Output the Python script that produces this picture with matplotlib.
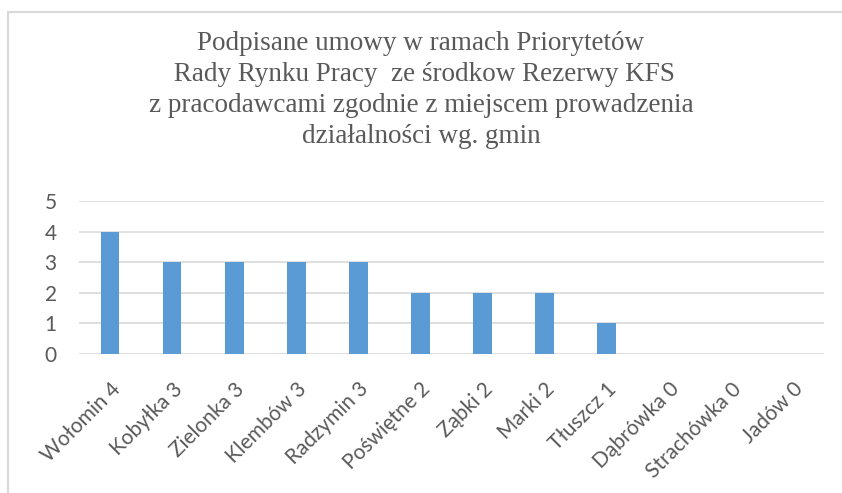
import matplotlib.pyplot as plt
from matplotlib.patches import Rectangle

gminy = ["Wołomin", "Kobyłka", "Zielonka", "Klembów", "Radzymin", "Poświętne",
         "Ząbki", "Marki", "Tłuszcz", "Dąbrówka", "Strachówka", "Jadów"]
umowy = [4, 3, 3, 3, 3, 2, 2, 2, 1, 0, 0, 0]
labels = [f"{g} {v}" for g, v in zip(gminy, umowy)]

title = ("Podpisane umowy w ramach Priorytetów\n"
         " Rady Rynku Pracy  ze środkow Rezerwy KFS\n"
         "z pracodawcami zgodnie z miejscem prowadzenia\n"
         "działalności wg. gmin")

W, H = 842, 493
fig = plt.figure(figsize=(W / 100, H / 100), dpi=100)
fig.patches.append(Rectangle((8 / W, -0.1), 1.1, 1 - 12 / H + 0.1,
                             transform=fig.transFigure, fill=False,
                             edgecolor="#D9D9D9", linewidth=1.5))

ax = fig.add_axes([79 / W, 1 - 354 / H, (824 - 79) / W, (354 - 201) / H])
x = range(len(labels))
ax.bar(x, umowy, width=0.30, color="#5B9BD5", zorder=3)
ax.set_xlim(-0.5, len(labels) - 0.5)
ax.set_ylim(0, 5)
ax.set_yticks(range(6))
ax.grid(axis="y", color="#D9D9D9", linewidth=1.2, zorder=0)
for s in ax.spines.values():
    s.set_visible(False)
ax.tick_params(length=0, colors="#595959")
ax.set_xticks(list(x))
ax.set_xticklabels(labels, rotation=45, ha="right", rotation_mode="anchor",
                   fontsize=15, family="Lato", color="#595959")
for t in ax.get_yticklabels():
    t.set_fontsize(15)
    t.set_family("Lato")
ax.tick_params(axis="x", pad=18)
ax.tick_params(axis="y", pad=16)

fig.text(0.5, 1 - 90 / H, title, ha="center", va="center", fontsize=19.5,
         family="Liberation Serif", color="#595959", linespacing=1.33)

fig.savefig("out.png", dpi=100)
